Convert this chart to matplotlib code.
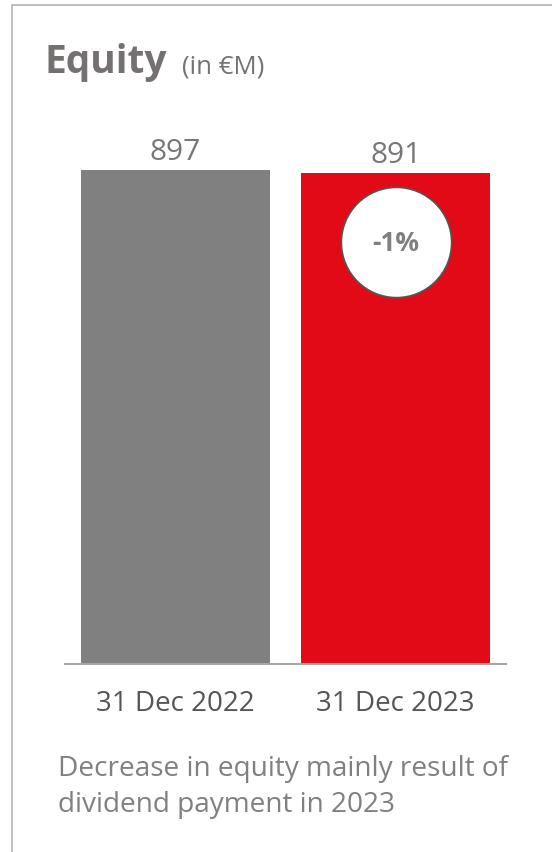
import matplotlib
matplotlib.use('Agg')
import matplotlib.pyplot as plt
from matplotlib.lines import Line2D

plt.rcParams['font.family'] = ['Open Sans', 'DejaVu Sans']

# ─── data ─────────────────────────────────────────────────────────────────────

dates  = ['31 Dec 2022', '31 Dec 2023']
equity = [897, 891]
colors = ['#808080', '#E20A17']
note   = 'Decrease in equity mainly result of\ndividend payment in 2023'

change_pct = round((equity[1] - equity[0]) / equity[0] * 100)

# ─── figure ───────────────────────────────────────────────────────────────────

W, H = 552, 853
fig = plt.figure(figsize=(W / 100, H / 100), dpi=100)

# panel frame (left and top edges only)
fig.add_artist(Line2D([12 / W, 12 / W, 1], [0, 1 - 6 / H, 1 - 6 / H],
                      transform=fig.transFigure, color='#b4b4b4', linewidth=1.2))

ax = fig.add_axes([65 / W, 188 / H, 441 / W, 565 / H])
x = range(len(dates))
ax.bar(x, equity, width=0.855, color=colors)
ax.set_xlim(-0.5, 1.5)
ax.set_ylim(0, 1026)

for xi, v in zip(x, equity):
    ax.annotate(f'{v}', (xi, v), xytext=(0, 8), textcoords='offset points',
                ha='center', va='baseline', fontsize=21.5, color='#777777')

# change badge on the latest bar
ax.scatter([1], [equity[1] * 0.86], s=6300, color='white',
           edgecolor='#555555', linewidth=1.2, zorder=3)
ax.text(1, equity[1] * 0.86, f'{change_pct:d}%', ha='center', va='center',
        fontsize=19, fontweight='bold', color='#808080', zorder=4)

for s in ['top', 'right', 'left']:
    ax.spines[s].set_visible(False)
ax.spines['bottom'].set_color('#a6a6a6')
ax.spines['bottom'].set_linewidth(1.5)
ax.set_yticks([])
ax.set_xticks(list(x))
ax.set_xticklabels(dates, fontsize=20, color='#555555')
ax.tick_params(axis='x', length=0, pad=18)

# title
t1 = fig.text(45 / W, 1 - 73 / H, 'Equity', fontsize=28, fontweight='bold',
              color='#767171', va='baseline')
fig.canvas.draw()
bb = t1.get_window_extent()
fig.text((bb.x1 + 14) / W, 1 - 73 / H, '(in €M)', fontsize=18.5,
         color='#767171', va='baseline')

fig.text(58 / W, 1 - 787 / H, note, fontsize=20.2, color='#808080',
         va='center', ha='left', linespacing=1.42)

plt.savefig('out.png', dpi=100)
plt.close()
